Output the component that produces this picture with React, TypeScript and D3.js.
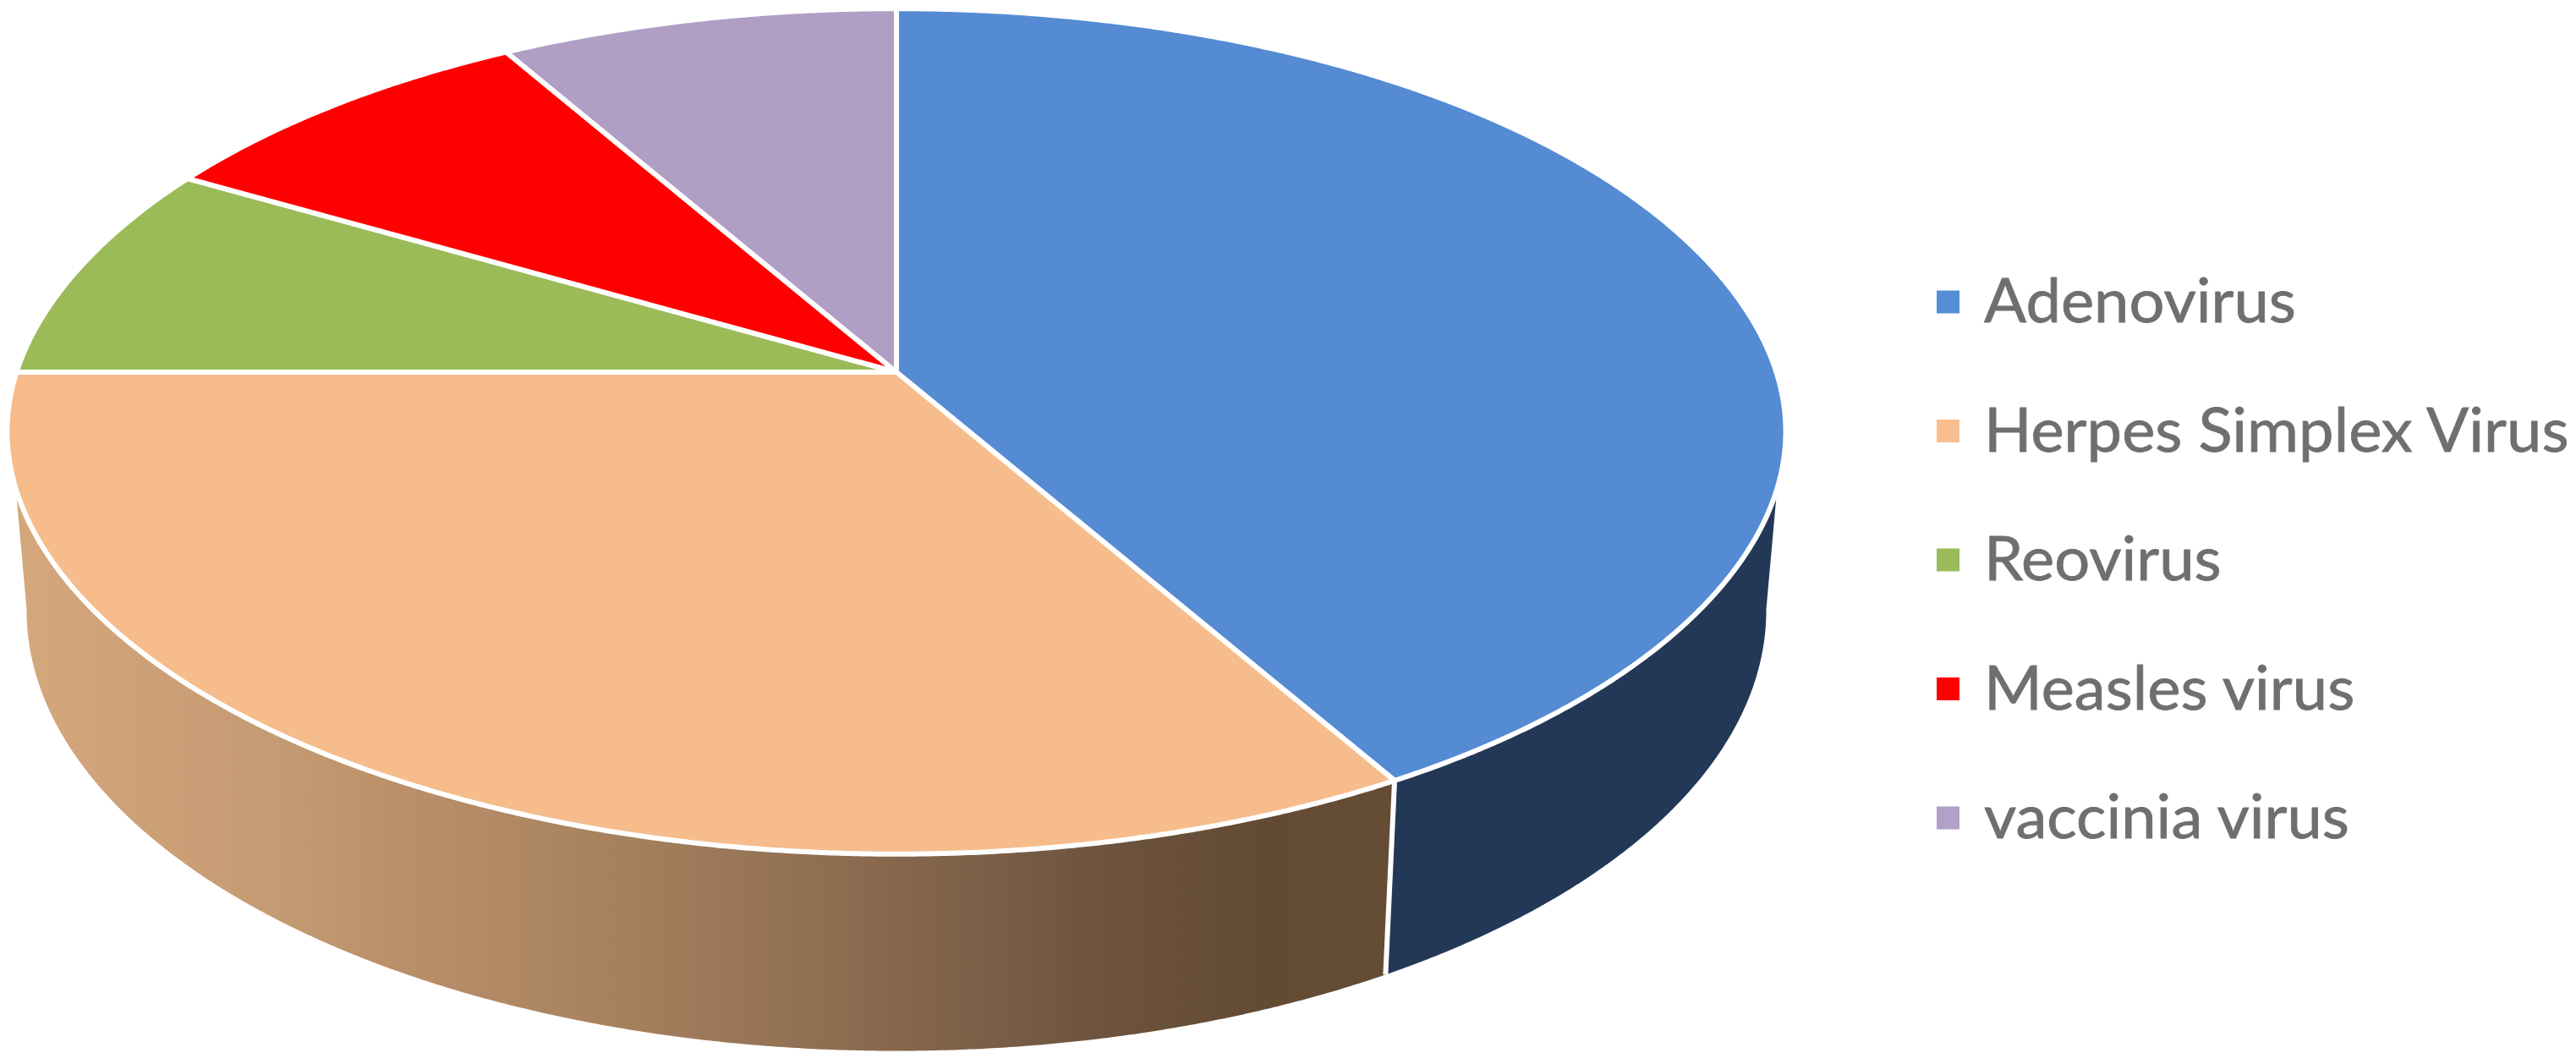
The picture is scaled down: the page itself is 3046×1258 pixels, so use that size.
import React from "react";
import * as d3 from "d3";

// Data
const categories = ["Adenovirus", "Herpes Simplex Virus", "Reovirus", "Measles virus", "vaccinia virus"];
const seriesValues = [5, 4, 1, 1, 1];
const topColors = ["#548BD3", "#F6BC8C", "#9BBB59", "#FF0000", "#B09EC5"];
const legendColors = ["#558ED5", "#F9BE8F", "#9BBB59", "#FF0000", "#B1A0C7"];
const adenoSide = "#233856";
const gradientStops: [number, string][] = [
  [0, "#D5A77D"],
  [0.2, "#C49A72"],
  [0.27, "#BB916A"],
  [0.45, "#A5805E"],
  [0.606, "#8D6C50"],
  [0.78, "#6F5540"],
  [0.91, "#634A33"],
  [1, "#654C35"],
];

const W = 3046;
const H = 1258;
const cx = 1060;
const cy = 440;
const A = 1035;
const B = 490;
const k = 0.14;
const depthY = 213;
const depthW = 0.016;
const rad = Math.PI / 180;
// where the outer silhouette of the drum leaves the top and bottom rims
const silhouetteTop = 105.7 * rad;
const silhouetteBottom = 97.8 * rad;

const bump = (v: number, c: number, s: number, e: number) => e * Math.exp(-Math.pow((v - c) / s, 2));

// perspective projection of a point on the unit disc; h=0 top plane, h=1 bottom plane
function project(theta: number, r: number, h: number): [number, number] {
  const u = r * Math.sin(theta);
  const v = -r * Math.cos(theta);
  const w = 1 - k * v + depthW * h;
  const widen = h === 0 ? 1 + bump(v, 0.15, 0.4, 0.006) : 1;
  return [cx + ((A * u) / w) * widen, cy + (B * v + depthY * h) / w];
}

const pie = d3.pie<number>().sort(null).value((d) => d);
const arcs = pie(seriesValues);
const line = d3.line();

function arcPts(a0: number, a1: number, h: number): [number, number][] {
  const n = Math.max(2, Math.ceil((Math.abs(a1 - a0) * 720) / Math.PI));
  return d3.range(n + 1).map((i) => project(a0 + ((a1 - a0) * i) / n, 1, h));
}

function topPath(a0: number, a1: number) {
  return line([project(0, 0, 0), ...arcPts(a0, a1, 0)]) + "Z";
}
function sidePath(top0: number, top1: number, bot0: number, bot1: number) {
  return line([...arcPts(top0, top1, 0), ...arcPts(bot1, bot0, 1)]) + "Z";
}

const legendY = d3.scalePoint<string>().domain(categories).range([357, 967]);
const seam = arcs[0].endAngle;

export default function App() {
  return (
    <svg
      width={W}
      height={H}
      viewBox={`0 0 ${W} ${H}`}
      style={{ position: "absolute", left: 0, top: 0, background: "#fff" }}
    >
      <defs>
        <linearGradient id="sideGrad" gradientUnits="userSpaceOnUse" x1={14} x2={1640} y1={0} y2={0}>
          {gradientStops.map(([o, c]) => (
            <stop key={o} offset={o} stopColor={c} />
          ))}
        </linearGradient>
      </defs>
      <path d={sidePath(silhouetteTop, seam, silhouetteBottom, seam)} fill={adenoSide} stroke="none" />
      <path
        d={sidePath(seam, 2 * Math.PI - silhouetteTop, seam, 2 * Math.PI - silhouetteBottom)}
        fill="url(#sideGrad)"
        stroke="none"
      />
      <line
        x1={project(seam, 1, 0)[0]}
        y1={project(seam, 1, 0)[1]}
        x2={project(seam, 1, 1)[0]}
        y2={project(seam, 1, 1)[1]}
        stroke="#fff"
        strokeWidth={6}
      />
      {arcs.map((a, i) => (
        <path
          key={categories[i]}
          d={topPath(a.startAngle, a.endAngle)}
          fill={topColors[i]}
          stroke="#fff"
          strokeWidth={6}
          strokeLinejoin="round"
        />
      ))}
      {categories.map((c, i) => (
        <g key={c}>
          <rect x={2290} y={(legendY(c) as number) - 13.5} width={27} height={27} fill={legendColors[i]} />
          <text
            transform={`translate(2346,${(legendY(c) as number) + 24}) scale(1.03,1)`}
            fontFamily="Lato, sans-serif"
            fontSize={72}
            fill="#6F6F6F"
            stroke="#6F6F6F"
            strokeWidth={0.8}
          >
            {c}
          </text>
        </g>
      ))}
    </svg>
  );
}
